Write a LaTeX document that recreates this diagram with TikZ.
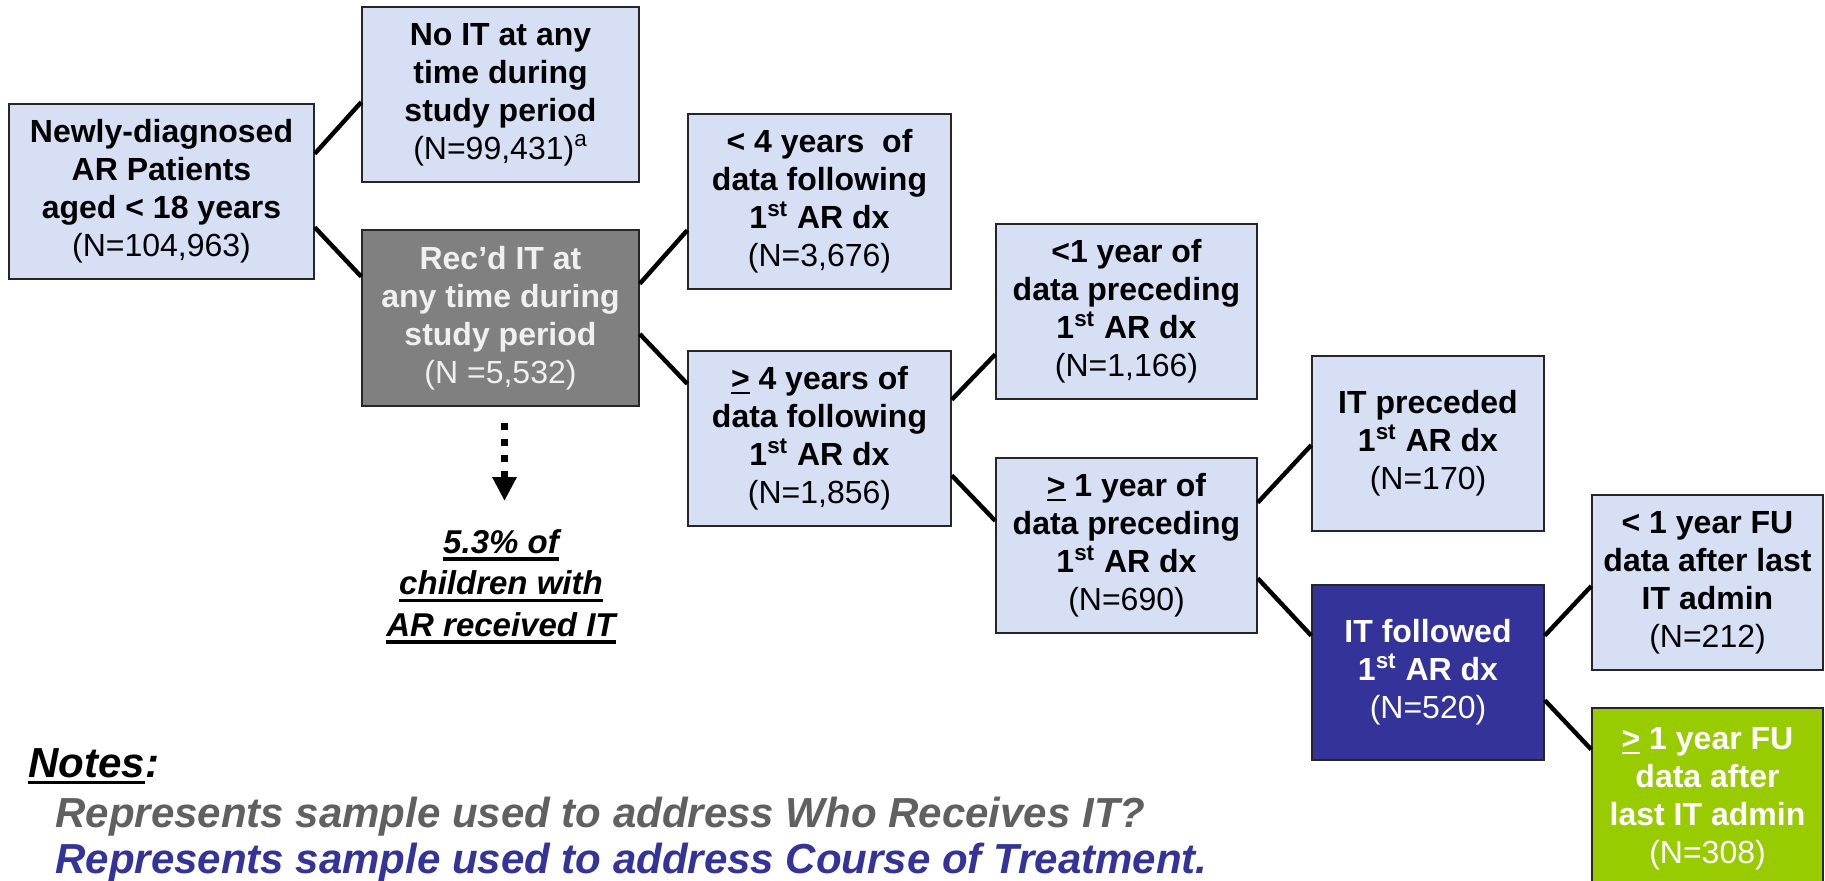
\documentclass[tikz,border=0pt]{standalone}
\usepackage{fontspec}
\setmainfont{Liberation Sans}
\usetikzlibrary{arrows.meta,calc}
\definecolor{boxblue}{RGB}{214,223,244}
\definecolor{boxgray}{RGB}{128,128,128}
\definecolor{boxnavy}{RGB}{51,51,153}
\definecolor{boxgreen}{RGB}{153,204,0}
\definecolor{notegray}{RGB}{96,96,96}
\definecolor{recdtext}{RGB}{240,240,240}
\newcommand{\ulge}{\setbox0\hbox{>}\leavevmode\rlap{\rule[-2.3pt]{\wd0}{1.2pt}}\box0}
\newcommand{\myul}[1]{\setbox0\hbox{#1}\leavevmode\rlap{\rule[-3.6pt]{\wd0}{1.6pt}}\box0}
\newcommand{\sst}{\textsuperscript{st}}
\begin{document}
\begin{tikzpicture}[x=0.5pt,y=-0.5pt,
  flowbox/.style={draw=black!85,line width=0.75pt,inner sep=0pt,align=center,
    minimum height=87.5pt,font=\fontsize{16}{19}\selectfont\bfseries},
  lightbox/.style={flowbox,fill=boxblue},
  conn/.style={line width=2.2pt,black},
  notefont/.style={font=\fontsize{21}{25}\selectfont\bfseries\itshape,inner sep=0pt,anchor=base west},
]
\useasboundingbox (0,0) rectangle (1825,880);

% boxes
\node[lightbox,minimum width=152.5pt] (b1) at (161.5,191.5)
  {Newly-diagnosed\\AR Patients\\aged < 18 years\\\mdseries(N=104,963)};
\node[lightbox,minimum width=138.5pt] (noit) at (500.5,94.5)
  {No IT at any\\time during\\study period\\\mdseries(N=99,431)\textsuperscript{a}};
\node[flowbox,fill=boxgray,text=recdtext,minimum width=138.5pt,minimum height=88pt] (recd) at (500.5,318)
  {Rec’d IT at\\any time during\\study period\\\mdseries(N =5,532)};
\node[lightbox,minimum width=131.5pt] (lt4) at (819.5,201.5)
  {< 4 years\ \ of\\data following\\1\sst\ AR dx\\\mdseries(N=3,676)};
\node[lightbox,minimum width=131.5pt] (ge4) at (819.5,438.5)
  {\ulge\ 4 years of\\data following\\1\sst\ AR dx\\\mdseries(N=1,856)};
\node[lightbox,minimum width=130.5pt] (lt1p) at (1126.5,311.5)
  {<1 year of\\data preceding\\1\sst\ AR dx\\\mdseries(N=1,166)};
\node[lightbox,minimum width=130.5pt] (ge1p) at (1126.5,545.5)
  {\ulge\ 1 year of\\data preceding\\1\sst\ AR dx\\\mdseries(N=690)};
\node[lightbox,minimum width=116pt] (itp) at (1428,443.5)
  {IT preceded\\1\sst\ AR dx\\\mdseries(N=170)};
\node[flowbox,fill=boxnavy,text=white,minimum width=116pt] (itf) at (1428,672.5)
  {IT followed\\1\sst\ AR dx\\\mdseries(N=520)};
\node[lightbox,minimum width=115.5pt] (ltfu) at (1707.5,582.5)
  {< 1 year FU\\data after last\\IT admin\\\mdseries(N=212)};
\node[flowbox,fill=boxgreen,text=white,minimum width=115.5pt,minimum height=91pt] (gefu) at (1707.5,799)
  {\ulge\ 1 year FU\\data after\\last IT admin\\\mdseries(N=308)};

% connectors
\draw[conn] ($(b1.north east)!0.286!(b1.south east)$) -- ($(noit.north west)!0.543!(noit.south west)$);
\draw[conn] ($(b1.north east)!0.703!(b1.south east)$) -- ($(recd.north west)!0.267!(recd.south west)$);
\draw[conn] ($(recd.north east)!0.307!(recd.south east)$) -- ($(lt4.north west)!0.663!(lt4.south west)$);
\draw[conn] ($(recd.north east)!0.59!(recd.south east)$) -- ($(ge4.north west)!0.19!(ge4.south west)$);
\draw[conn] ($(ge4.north east)!0.28!(ge4.south east)$) -- ($(lt1p.north west)!0.743!(lt1p.south west)$);
\draw[conn] ($(ge4.north east)!0.709!(ge4.south east)$) -- ($(ge1p.north west)!0.36!(ge1p.south west)$);
\draw[conn] ($(ge1p.north east)!0.257!(ge1p.south east)$) -- ($(itp.north west)!0.509!(itp.south west)$);
\draw[conn] ($(ge1p.north east)!0.686!(ge1p.south east)$) -- ($(itf.north west)!0.291!(itf.south west)$);
\draw[conn] ($(itf.north east)!0.291!(itf.south east)$) -- ($(ltfu.north west)!0.52!(ltfu.south west)$);
\draw[conn] ($(itf.north east)!0.657!(itf.south east)$) -- ($(gefu.north west)!0.23!(gefu.south west)$);

% dotted arrow and note
\coordinate (arrowstart) at ($(recd.south)+(4,16)$);
\coordinate (arrowend) at (504.5,501);
\draw[line width=3.5pt,dash pattern=on 3.5pt off 4.5pt,
  -{Triangle[length=12pt,width=11.5pt]}] (arrowstart) -- (arrowend);
\node[inner sep=0pt,anchor=north,align=center,
  font=\fontsize{16.5}{20.75}\selectfont\bfseries\itshape] (pct) at (501,529)
  {\myul{5.3\% of}\\\myul{children with}\\\myul{AR received IT}};

% notes
\node[notefont] (notes) at (28,777) {\myul{Notes}:};
\node[notefont,text=notegray] (note1) at (55,827) {Represents sample used to address Who Receives IT?};
\node[notefont,text=boxnavy] (note2) at (55,873) {Represents sample used to address Course of Treatment.};
\end{tikzpicture}
\end{document}
